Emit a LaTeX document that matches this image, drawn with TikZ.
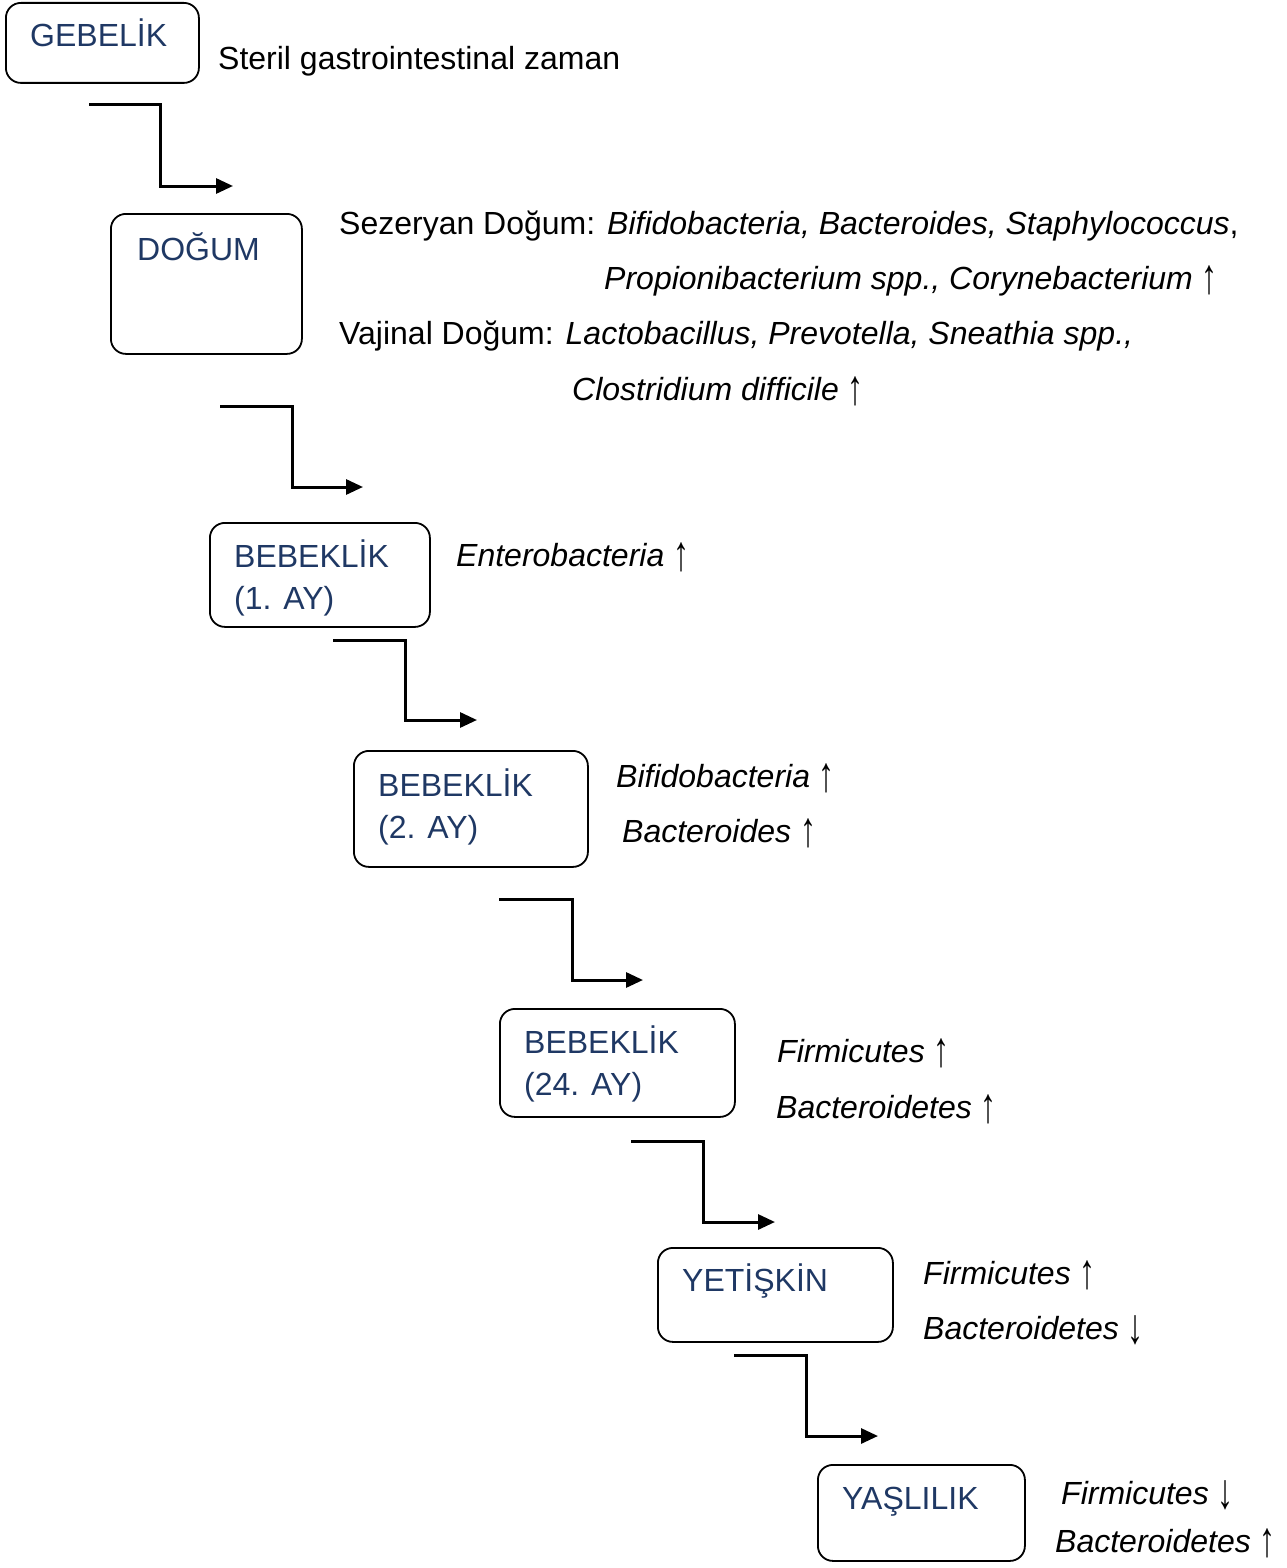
\documentclass[tikz,border=0pt]{standalone}
\usepackage{fontspec}
\setmainfont{Liberation Sans}
\usetikzlibrary{arrows.meta}
\definecolor{stageblue}{HTML}{1F3864}
\newcommand{\upar}{\raisebox{-0.15em}{\scalebox{1}[1.55]{↑}}}
\newcommand{\downar}{\raisebox{-0.15em}{\scalebox{1}[1.55]{↓}}}

\begin{document}
\begin{tikzpicture}[x=1pt,y=-1pt,
    stage/.style={draw,line width=1.8pt,rounded corners=15pt,anchor=north west,inner sep=0pt},
    stagetext/.style={anchor=base west,inner sep=0pt,text=stageblue,align=left,font=\fontsize{32}{42}\selectfont},
    note/.style={anchor=base west,inner sep=0pt,font=\fontsize{32}{38}\selectfont},
    link/.style={line width=3pt,-{Triangle[length=17pt,width=15pt]}}]
        \useasboundingbox (0,0) rectangle (1287,1568);
        % stages
        \node[stage,minimum width=193pt,minimum height=80pt] (gebelik) at (5,2) {};
        \node[stagetext] (gebelikt) at (30,47) {GEBELİK};
        \node[stage,minimum width=191pt,minimum height=140pt] (dogum) at (110,213) {};
        \node[stagetext] (dogumt) at (137,260) {DOĞUM};
        \node[stage,minimum width=220pt,minimum height=104pt] (bebek1) at (209,522) {};
        \node[stagetext] (bebek1t) at (234,609) {BEBEKLİK\\(1. AY)};
        \node[stage,minimum width=234pt,minimum height=116pt] (bebek2) at (353,750) {};
        \node[stagetext] (bebek2t) at (378,838) {BEBEKLİK\\(2. AY)};
        \node[stage,minimum width=235pt,minimum height=108pt] (bebek24) at (499,1008) {};
        \node[stagetext] (bebek24t) at (524,1095) {BEBEKLİK\\(24. AY)};
        \node[stage,minimum width=235pt,minimum height=94pt] (yetiskin) at (657,1247) {};
        \node[stagetext] (yetiskint) at (682,1291) {YETİŞKİN};
        \node[stage,minimum width=207pt,minimum height=96pt] (yasli) at (817,1464) {};
        \node[stagetext] (yaslit) at (842,1509) {YAŞLILIK};
        % notes
        \node[note] (steril) at (218,70) {Steril gastrointestinal zaman};
        \node[note] (sezeryan) at (339,234) {Sezeryan Doğum: \textit{Bifidobacteria, Bacteroides, Staphylococcus},};
        \node[note] (sezeryan2) at (604,289) {\textit{Propionibacterium spp., Corynebacterium} \upar};
        \node[note] (vajinal) at (339,344) {Vajinal Doğum: \textit{Lactobacillus, Prevotella, Sneathia spp.,}};
        \node[note] (vajinal2) at (572,400) {\textit{Clostridium difficile} \upar};
        \node[note] (entero) at (456,566) {\textit{Enterobacteria} \upar};
        \node[note] (bifido) at (616,787) {\textit{Bifidobacteria} \upar};
        \node[note] (bactero) at (622,842) {\textit{Bacteroides} \upar};
        \node[note] (firmi1) at (777,1062) {\textit{Firmicutes} \upar};
        \node[note] (bacter1) at (776,1118) {\textit{Bacteroidetes} \upar};
        \node[note] (firmi2) at (923,1284) {\textit{Firmicutes} \upar};
        \node[note] (bacter2) at (923,1339) {\textit{Bacteroidetes} \downar};
        \node[note] (firmi3) at (1061,1504) {\textit{Firmicutes} \downar};
        \node[note] (bacter3) at (1055,1552) {\textit{Bacteroidetes} \upar};
        % links
        \coordinate (s1) at (89,105);   \coordinate (e1) at (233,186);
        \coordinate (s2) at (220,406);  \coordinate (e2) at (363,487);
        \coordinate (s3) at (333,640);  \coordinate (e3) at (477,720);
        \coordinate (s4) at (499,899);  \coordinate (e4) at (643,980);
        \coordinate (s5) at (631,1141); \coordinate (e5) at (775,1222);
        \coordinate (s6) at (734,1355); \coordinate (e6) at (878,1436);
        \draw[link] (s1) -- ++(71,0) |- (e1);
        \draw[link] (s2) -- ++(72,0) |- (e2);
        \draw[link] (s3) -- ++(72,0) |- (e3);
        \draw[link] (s4) -- ++(73,0) |- (e4);
        \draw[link] (s5) -- ++(72,0) |- (e5);
        \draw[link] (s6) -- ++(72,0) |- (e6);
    \end{tikzpicture}
\end{document}
